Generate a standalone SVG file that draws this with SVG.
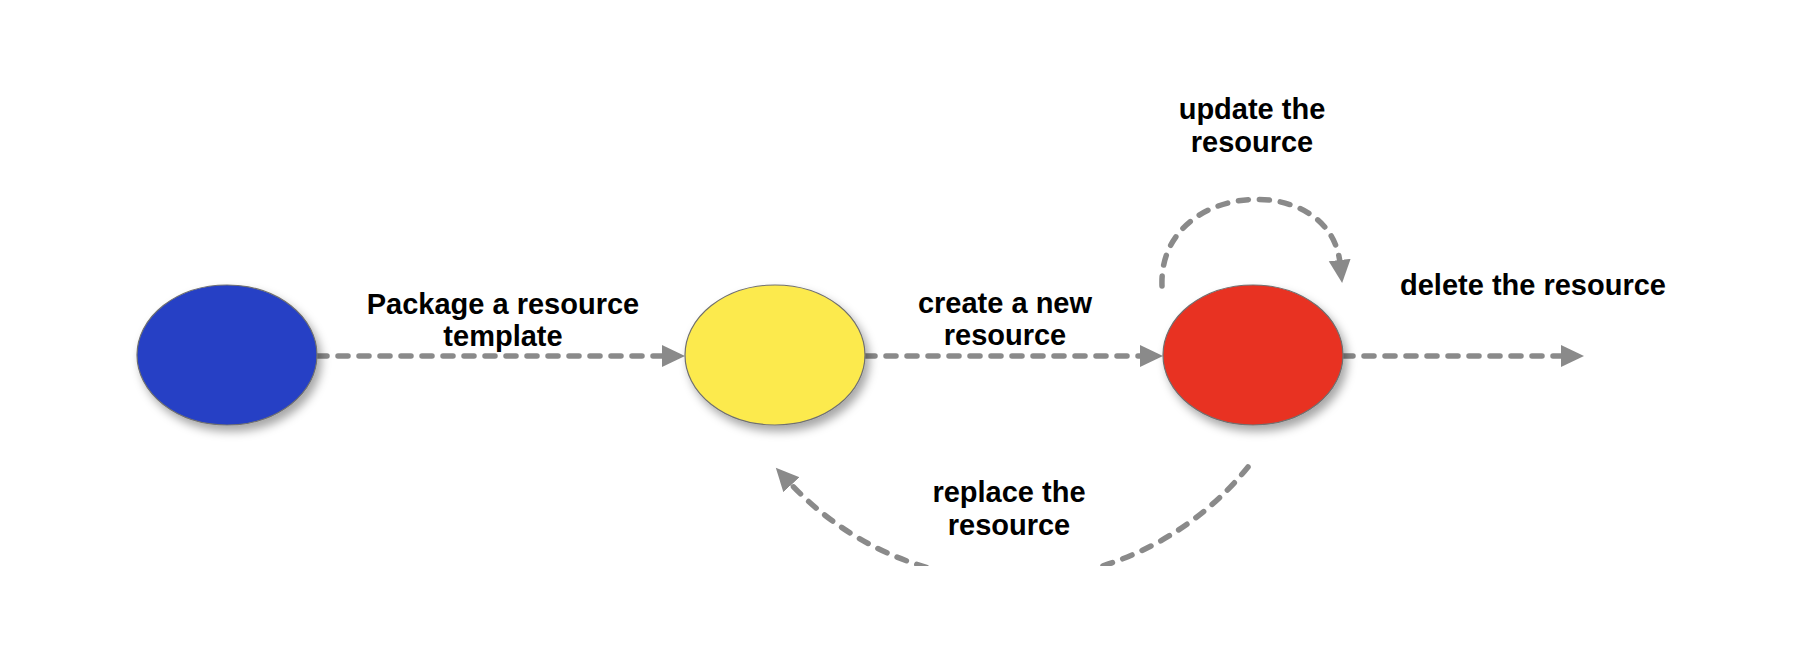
<svg xmlns="http://www.w3.org/2000/svg" width="1816" height="646" viewBox="0 0 1816 646">
<style>
.node{stroke:#707070;stroke-width:1.2;filter:url(#shadow)}
.conn{fill:none;stroke:#8a8a8a;stroke-width:5.5;stroke-linecap:round;stroke-dasharray:10 11}
.lbl{font-family:"Liberation Sans",Arial,Helvetica,sans-serif;font-weight:bold;font-size:29px;fill:#000;text-anchor:middle}
</style>
<defs>
<filter id="shadow" x="-20%" y="-20%" width="150%" height="150%">
<feDropShadow dx="4" dy="6" stdDeviation="5" flood-color="#000" flood-opacity="0.35"/>
</filter>
<marker id="arrow" markerUnits="userSpaceOnUse" markerWidth="26" markerHeight="24" refX="3" refY="11" orient="auto">
<path d="M0,0 L23,11 L0,22 z" fill="#8a8a8a"/>
</marker>
<clipPath id="cut"><rect x="0" y="0" width="1816" height="566"/></clipPath>
</defs>
<rect width="1816" height="646" fill="#fff"/>
<g id="connectors">
<path class="conn" d="M317,356 L665,356" marker-end="url(#arrow)"/>
<path class="conn" d="M865,356 L1143,356" marker-end="url(#arrow)"/>
<path class="conn" d="M1343,356 L1564,356" marker-end="url(#arrow)"/>
<path class="conn" d="M1162,286 C1158,180 1330,170 1340,263" marker-end="url(#arrow)"/>
<g clip-path="url(#cut)">
<path class="conn" d="M1248,467 A303.4,303.4 0 0 1 789.4,482.5" marker-end="url(#arrow)"/>
</g>
</g>
<g id="node-template">
<ellipse class="node" cx="227" cy="355" rx="90" ry="70" fill="#2541c5"/>
</g>
<g id="node-package">
<ellipse class="node" cx="775" cy="355" rx="90" ry="70" fill="#fcea4e"/>
</g>
<g id="node-resource">
<ellipse class="node" cx="1253" cy="355" rx="90" ry="70" fill="#e83324"/>
</g>
<g id="labels">
<text class="lbl" x="503" y="314">Package a resource</text>
<text class="lbl" x="503" y="346">template</text>
<text class="lbl" x="1005" y="313">create a new</text>
<text class="lbl" x="1005" y="345">resource</text>
<text class="lbl" x="1252" y="119">update the</text>
<text class="lbl" x="1252" y="152">resource</text>
<text class="lbl" x="1533" y="295">delete the resource</text>
<text class="lbl" x="1009" y="502">replace the</text>
<text class="lbl" x="1009" y="535">resource</text>
</g>
</svg>
